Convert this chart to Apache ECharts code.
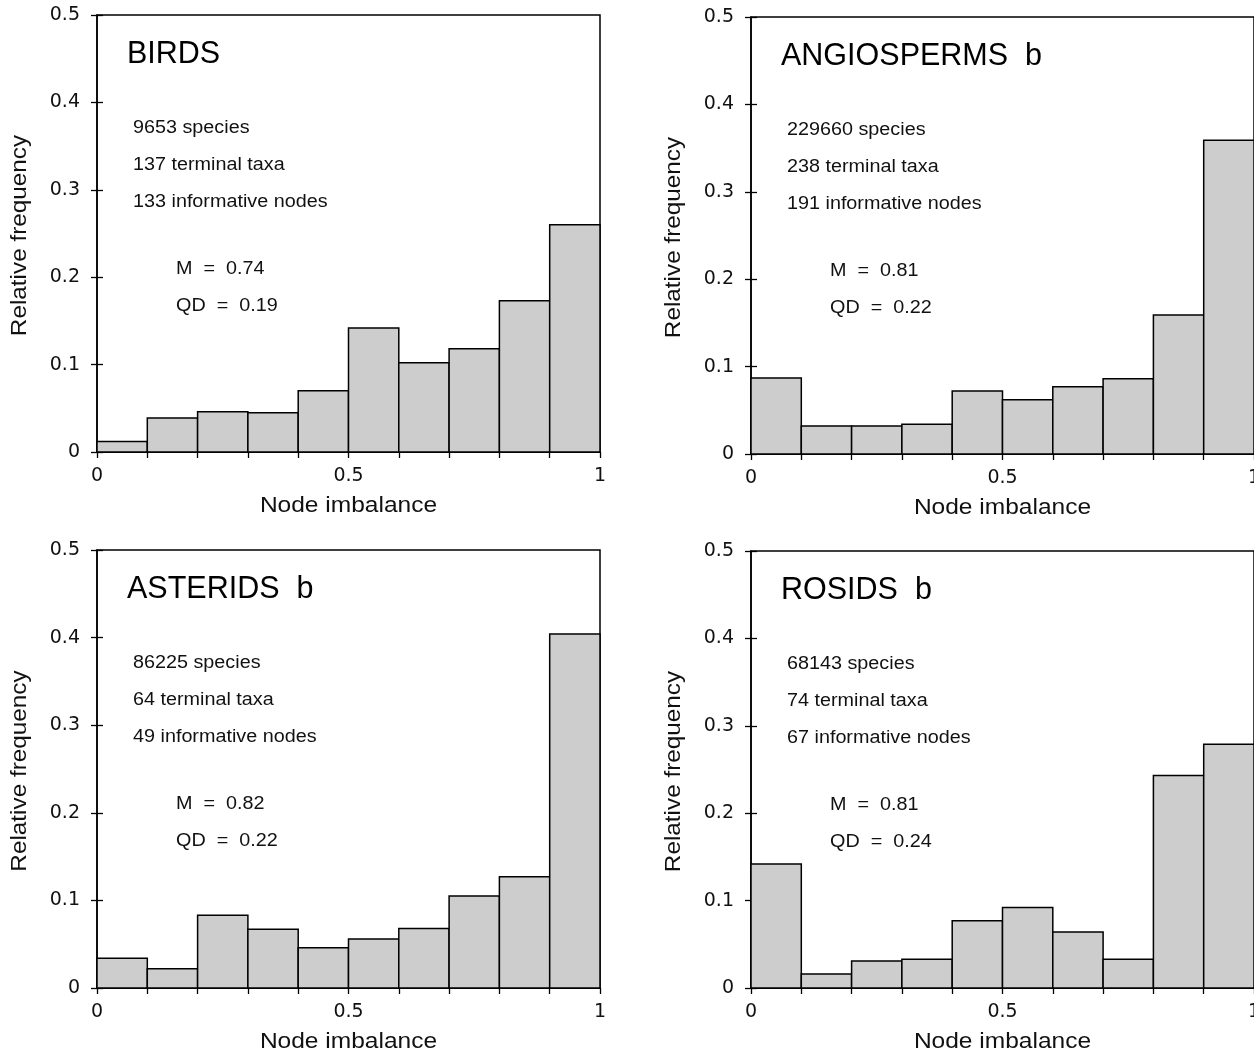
<!DOCTYPE html>
<html><head><meta charset="utf-8">
<script src="https://cdn.jsdelivr.net/npm/echarts@6/dist/echarts.min.js"></script>
<style>html,body{margin:0;padding:0;background:#fff}#c{width:1254px;height:1055px}</style>
</head><body><div id="c"></div>
<script>
// ---- data ----
const binEdges = [0, 0.1, 0.2, 0.3, 0.4, 0.5, 0.6, 0.7, 0.8, 0.9, 1.0];
const birds       = [0.012, 0.039, 0.046, 0.045, 0.070, 0.142, 0.102, 0.118, 0.173, 0.260];
const angiosperms = [0.087, 0.032, 0.032, 0.034, 0.072, 0.062, 0.077, 0.086, 0.159, 0.359];
const asterids    = [0.034, 0.022, 0.083, 0.067, 0.046, 0.056, 0.068, 0.105, 0.127, 0.404];
const rosids      = [0.142, 0.016, 0.031, 0.033, 0.077, 0.092, 0.064, 0.033, 0.243, 0.279];
const panelTitles = ['BIRDS', 'ANGIOSPERMS  b', 'ASTERIDS  b', 'ROSIDS  b'];
const panelInfo = [
  ['9653 species', '137 terminal taxa', '133 informative nodes'],
  ['229660 species', '238 terminal taxa', '191 informative nodes'],
  ['86225 species', '64 terminal taxa', '49 informative nodes'],
  ['68143 species', '74 terminal taxa', '67 informative nodes']
];
const panelStats = [
  ['M  =  0.74', 'QD  =  0.19'],
  ['M  =  0.81', 'QD  =  0.22'],
  ['M  =  0.82', 'QD  =  0.22'],
  ['M  =  0.81', 'QD  =  0.24']
];
const xTickLabels = ['0', '0.5', '1'];
const yTickLabels = ['0', '0.1', '0.2', '0.3', '0.4', '0.5'];
const xAxisTitle = 'Node imbalance';
const yAxisTitle = 'Relative frequency';
const seriesList = [birds, angiosperms, asterids, rosids];

// ---- layout ----
const grids = [
  {left: 97, top: 15, width: 503, height: 437},
  {left: 751, top: 17, width: 503, height: 437},
  {left: 97, top: 550, width: 503, height: 438},
  {left: 751, top: 551, width: 503, height: 437}
];
const FONT = '"Liberation Sans", Arial, Helvetica, sans-serif';
const TICKFONT = '"DejaVu Sans", sans-serif';

const xAxis = [], yAxis = [], series = [], graphic = [];
function addText(x, y, text, size, sx, fill) {
  graphic.push({
    type: 'text', x: x, y: y, scaleX: sx, silent: true,
    style: {text: text, x: 0, y: 0, font: size + 'px ' + FONT, fill: fill || '#111', align: 'left', verticalAlign: 'middle'}
  });
}
grids.forEach((g, i) => {
  xAxis.push({
    gridIndex: i, type: 'value', min: 0, max: 1, interval: 0.1,
    axisLine: {lineStyle: {color: '#000', width: 1.5}},
    axisTick: {show: true, length: 6, lineStyle: {color: '#000', width: 1.3}},
    splitLine: {show: false},
    axisLabel: {
      margin: 15, color: '#111', fontFamily: TICKFONT, fontSize: 19, showMinLabel: true, showMaxLabel: true,
      formatter: v => {
        const idx = [0, 0.5, 1].findIndex(t => Math.abs(t - v) < 1e-9);
        return idx >= 0 ? xTickLabels[idx] : '';
      }
    }
  });
  yAxis.push({
    gridIndex: i, type: 'value', min: 0, max: 0.5, interval: 0.1,
    axisLine: {lineStyle: {color: '#000', width: 1.5}},
    axisTick: {show: true, length: 6, lineStyle: {color: '#000', width: 1.3}},
    splitLine: {show: false},
    axisLabel: {
      margin: 17, color: '#111', fontFamily: TICKFONT, fontSize: 19,
      formatter: v => yTickLabels[Math.round(v * 10)]
    }
  });
  // inside half of crossing ticks
  yAxis.push({
    gridIndex: i, type: 'value', min: 0, max: 0.5, interval: 0.1, position: 'left',
    axisLine: {show: false},
    axisTick: {show: true, inside: true, length: 6, lineStyle: {color: '#000', width: 1.3}},
    axisLabel: {show: false}, splitLine: {show: false}
  });
  const data = seriesList[i].map((v, k) => [binEdges[k], binEdges[k + 1], v]);
  series.push({
    type: 'custom', xAxisIndex: i, yAxisIndex: i * 2, data: data,
    encode: {x: [0, 1], y: 2},
    renderItem: (params, api) => {
      const p0 = api.coord([api.value(0), api.value(2)]);
      const p1 = api.coord([api.value(1), 0]);
      return {
        type: 'rect',
        shape: {x: p0[0], y: p0[1], width: p1[0] - p0[0], height: p1[1] - p0[1]},
        style: {fill: '#cdcdcd', stroke: '#000', lineWidth: 1.5}
      };
    }
  });
  // panel texts
  addText(g.left + 30, g.top + 40, panelTitles[i], 30.5, 1.0, '#000');
  panelInfo[i].forEach((t, k) => addText(g.left + 36, g.top + 113.5 + k * 37, t, 17.5, 1.13));
  panelStats[i].forEach((t, k) => addText(g.left + 79, g.top + 254 + k * 37, t, 17.5, 1.13));
  // axis titles
  graphic.push({
    type: 'text', x: g.left + g.width / 2, y: g.top + g.height + 54, scaleX: 1.09, silent: true,
    style: {text: xAxisTitle, x: 0, y: 0, font: '22.5px ' + FONT, fill: '#111', align: 'center', verticalAlign: 'middle'}
  });
  graphic.push({
    type: 'text', x: g.left - 77, y: g.top + g.height / 2 + 2, rotation: Math.PI / 2, scaleX: 1.08, silent: true,
    style: {text: yAxisTitle, x: 0, y: 0, font: '22.5px ' + FONT, fill: '#111', align: 'center', verticalAlign: 'middle'}
  });
});

const chart = echarts.init(document.getElementById('c'), null, {renderer: 'canvas'});
chart.setOption({
  animation: false,
  backgroundColor: '#fff',
  grid: grids.map(g => Object.assign({show: true, borderColor: '#000', borderWidth: 1.5, backgroundColor: 'transparent', containLabel: false, outerBoundsMode: 'none'}, g)),
  xAxis: xAxis, yAxis: yAxis, series: series, graphic: graphic
});
</script></body></html>
